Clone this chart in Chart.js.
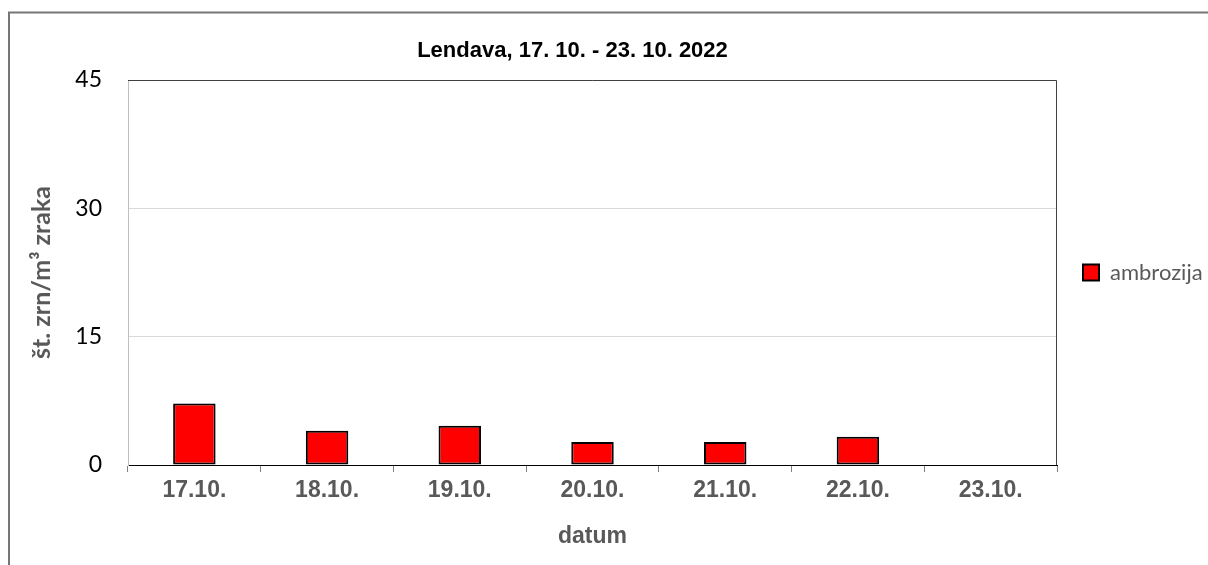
<!DOCTYPE html>
<html>
<head>
<meta charset="utf-8">
<script src="https://cdn.jsdelivr.net/npm/chart.js@4.4.0/dist/chart.umd.min.js"></script>
<style>
  body { margin: 0; background: #fff; }
  canvas { display: block; }
</style>
</head>
<body>
<canvas id="pollenChart" width="1208" height="565"></canvas>
<script>
const days = ['17.10.', '18.10.', '19.10.', '20.10.', '21.10.', '22.10.', '23.10.'];
const ambrozija = [7.2, 4.0, 4.6, 2.7, 2.7, 3.3, 0];
const yMax = 45;
const yStep = 15;

// outer chart border (cut off on the right/bottom like the original) and plot frame
const framePlugin = {
  id: 'frame',
  beforeDraw: (chart) => {
    const ctx = chart.ctx;
    ctx.save();
    ctx.strokeStyle = '#767676';
    ctx.lineWidth = 2;
    ctx.beginPath();
    ctx.moveTo(9, chart.height + 5);
    ctx.lineTo(9, 12.5);
    ctx.lineTo(chart.width + 5, 12.5);
    ctx.stroke();
    ctx.restore();
  },
  afterDatasetsDraw: (chart) => {
    const { ctx, chartArea } = chart;
    ctx.save();
    ctx.strokeStyle = '#404040';
    ctx.lineWidth = 1;
    ctx.beginPath();
    ctx.moveTo(chartArea.left, chartArea.top + 0.5);
    ctx.lineTo(chartArea.right - 0.5, chartArea.top + 0.5);
    ctx.lineTo(chartArea.right - 0.5, chartArea.bottom);
    ctx.stroke();
    ctx.restore();
  },
  afterLayout: (chart) => {
    // the title in the original sits left of the page centre
    chart.titleBlock.right -= 63;
  },
};

const pollenChart = new Chart(document.getElementById('pollenChart'), {
  type: 'bar',
  data: {
    labels: days,
    datasets: [
      {
        label: 'ambrozija',
        data: ambrozija,
        backgroundColor: '#ff0000',
        borderColor: '#000000',
        borderWidth: 2,
        borderSkipped: false,
        barPercentage: 0.32,
        categoryPercentage: 1,
      },
    ],
  },
  options: {
    responsive: false,
    animation: false,
    layout: { padding: 0 },
    plugins: {
      title: {
        display: true,
        text: 'Lendava, 17. 10. - 23. 10. 2022',
        color: '#000',
        font: { family: 'Liberation Sans', size: 22, weight: 'bold' },
        padding: { top: 38, bottom: 15.6 },
      },
      legend: {
        position: 'right',
        fullSize: false,
        maxWidth: 151,
        labels: {
          boxWidth: 16,
          boxHeight: 16,
          padding: 26,
          color: '#595959',
          font: { family: 'Lato', size: 22 },
        },
      },
      tooltip: { enabled: false },
    },
    scales: {
      x: {
        afterFit: (scale) => { scale.height = 100; },
        grid: {
          offset: true,
          drawOnChartArea: false,
          drawTicks: true,
          tickLength: 7,
          color: '#808080',
        },
        border: { color: '#000', width: 1 },
        ticks: {
          padding: 5,
          color: '#595959',
          font: { family: 'Liberation Sans', size: 23, weight: 'bold' },
        },
        title: {
          display: true,
          text: 'datum',
          color: '#595959',
          font: { family: 'Liberation Sans', size: 23, weight: 'bold' },
          padding: { top: 0, bottom: 15 },
        },
      },
      y: {
        min: 0,
        max: yMax,
        afterFit: (scale) => { scale.width = 128; },
        grid: {
          color: '#d9d9d9',
          drawTicks: false,
        },
        border: { color: '#bfbfbf', width: 1 },
        ticks: {
          stepSize: yStep,
          padding: 26,
          color: '#000',
          font: { family: 'Lato', size: 23 },
        },
        title: {
          display: true,
          text: 'št. zrn/m³ zraka',
          color: '#595959',
          font: { family: 'Lato', size: 25, weight: 'bold' },
          padding: { top: 27, bottom: 0 },
        },
      },
    },
  },
  plugins: [framePlugin],
});
</script>
</body>
</html>
